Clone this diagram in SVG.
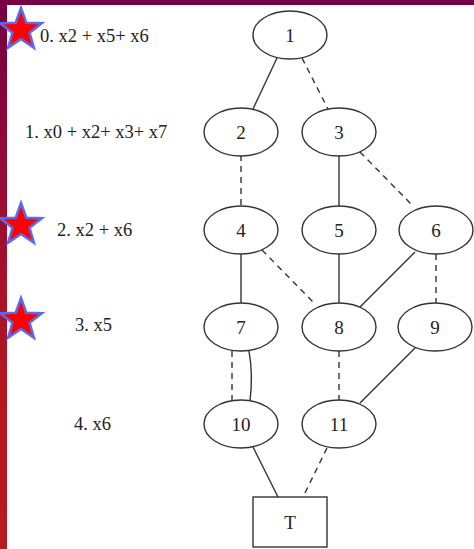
<svg xmlns="http://www.w3.org/2000/svg" width="474" height="549" viewBox="0 0 474 549">
  <style>
    .node ellipse, .node rect { fill: #ffffff; stroke: #333333; stroke-width: 1.4; }
    .node text { font-family: "Liberation Serif", "Times New Roman", serif; font-size: 19px; fill: #222222; text-anchor: middle; }
    .edges line, .edges path { stroke: #333333; stroke-width: 1.4; fill: none; }
    .edges .dash { stroke-dasharray: 6 5; }
    .level { font-family: "Liberation Serif", "Times New Roman", serif; font-size: 18.5px; fill: #222222; }
    .star { fill: #ff0000; stroke: #5a6af0; stroke-width: 2.5; stroke-linejoin: miter; }
  </style>
  <defs>
    <linearGradient id="sideBand" x1="0" y1="0" x2="0" y2="1">
      <stop offset="0" stop-color="#750042"/>
      <stop offset="0.35" stop-color="#9a0c36"/>
      <stop offset="0.7" stop-color="#b3181f"/>
      <stop offset="1" stop-color="#b51b20"/>
    </linearGradient>
    <polygon id="starShape" points="0,-22 5.29,-7.28 20.92,-6.8 8.56,2.78 12.93,17.8 0,9 -12.93,17.8 -8.56,2.78 -20.92,-6.8 -5.29,-7.28"/>
  </defs>

  <!-- background and frame bands -->
  <rect x="0" y="0" width="474" height="549" fill="#ffffff"/>
  <rect x="0" y="0" width="474" height="5" fill="#770042"/>
  <rect x="0" y="0" width="7" height="549" fill="url(#sideBand)"/>

  <!-- level labels -->
  <g id="levels">
    <text class="level" x="40" y="42">0. x2 + x5+ x6</text>
    <text class="level" x="25" y="138">1. x0 + x2+ x3+ x7</text>
    <text class="level" x="57" y="236">2. x2 + x6</text>
    <text class="level" x="75" y="331">3. x5</text>
    <text class="level" x="74" y="430">4. x6</text>
  </g>

  <!-- markers on selected levels -->
  <g id="stars">
    <use href="#starShape" class="star" transform="translate(21,30)"/>
    <use href="#starShape" class="star" transform="translate(21,225)"/>
    <use href="#starShape" class="star" transform="translate(21,320)"/>
  </g>

  <!-- connectors: solid = high edge, dashed = low edge -->
  <g class="edges" id="edges">
    <line x1="277" y1="58" x2="253" y2="109"/>
    <line class="dash" x1="302" y1="58" x2="328" y2="109"/>
    <line class="dash" x1="241" y1="155" x2="241" y2="206"/>
    <line x1="339" y1="155" x2="339" y2="206"/>
    <line class="dash" x1="360" y1="152" x2="413" y2="206"/>
    <line x1="241" y1="254" x2="241" y2="304"/>
    <line class="dash" x1="262" y1="250" x2="315" y2="304"/>
    <line x1="339" y1="254" x2="339" y2="304"/>
    <line x1="415" y1="252" x2="360" y2="307"/>
    <line class="dash" x1="436" y1="254" x2="436" y2="304"/>
    <line class="dash" x1="232" y1="351" x2="232" y2="401"/>
    <path d="M249,351 C252,368 252,385 250,401"/>
    <line class="dash" x1="339" y1="351" x2="339" y2="401"/>
    <line x1="415" y1="348" x2="360" y2="403"/>
    <line x1="253" y1="447" x2="278" y2="497"/>
    <line class="dash" x1="327" y1="448" x2="303" y2="497"/>
  </g>

  <!-- nodes -->
  <g class="node" id="n1"><ellipse cx="290" cy="35" rx="37" ry="24"/><text x="290" y="42">1</text></g>
  <g class="node" id="n2"><ellipse cx="241" cy="132" rx="37" ry="24"/><text x="241" y="139">2</text></g>
  <g class="node" id="n3"><ellipse cx="339" cy="132" rx="37" ry="24"/><text x="339" y="139">3</text></g>
  <g class="node" id="n4"><ellipse cx="241" cy="230" rx="37" ry="24"/><text x="241" y="237">4</text></g>
  <g class="node" id="n5"><ellipse cx="339" cy="230" rx="37" ry="24"/><text x="339" y="237">5</text></g>
  <g class="node" id="n6"><ellipse cx="436" cy="230" rx="37" ry="24"/><text x="436" y="237">6</text></g>
  <g class="node" id="n7"><ellipse cx="241" cy="327" rx="37" ry="24"/><text x="241" y="334">7</text></g>
  <g class="node" id="n8"><ellipse cx="339" cy="327" rx="37" ry="24"/><text x="339" y="334">8</text></g>
  <g class="node" id="n9"><ellipse cx="435" cy="327" rx="37" ry="24"/><text x="435" y="334">9</text></g>
  <g class="node" id="n10"><ellipse cx="241" cy="424" rx="37" ry="24"/><text x="241" y="431">10</text></g>
  <g class="node" id="n11"><ellipse cx="339" cy="424" rx="37" ry="24"/><text x="339" y="431">11</text></g>
  <g class="node" id="nT"><rect x="253" y="497" width="74" height="50"/><text x="290" y="529">T</text></g>
</svg>
